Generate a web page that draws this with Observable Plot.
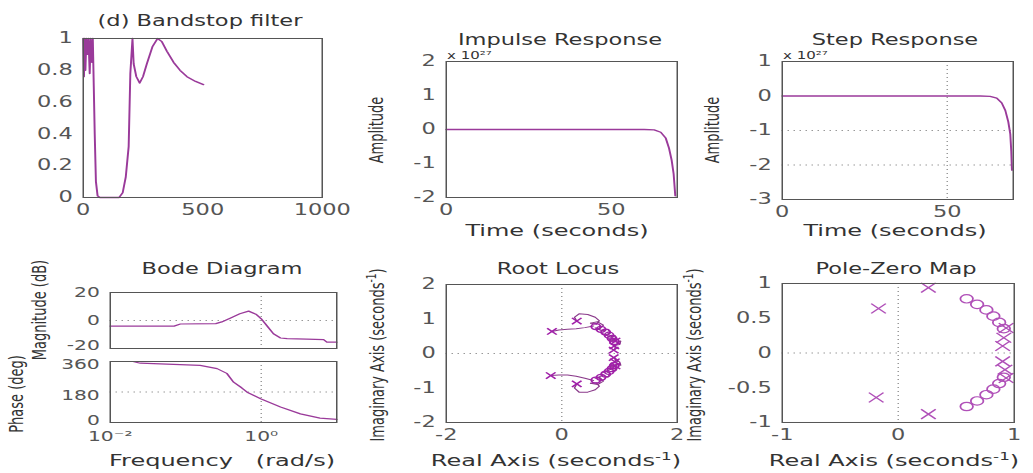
<!DOCTYPE html>
<html><head><meta charset="utf-8">
<script src="https://cdn.jsdelivr.net/npm/d3@7"></script>
<script src="https://cdn.jsdelivr.net/npm/@observablehq/plot@0.6"></script>
<style>
html,body{margin:0;padding:0;background:#fff;}
#fig{position:absolute;left:0;top:0;width:688.667px;height:473px;transform:scaleX(1.5);transform-origin:0 0;font-family:"DejaVu Sans",sans-serif;color:#333;}
#fig svg{background:transparent !important;}
.t{position:absolute;white-space:nowrap;transform:translate(-50%,-50%);}
.l{position:absolute;white-space:nowrap;transform:translate(0,-50%);}
.v{position:absolute;white-space:nowrap;transform:translate(-50%,-50%) rotate(-90deg);}
sup{font-size:70%;}
</style></head><body><div id="fig"></div>
<script>
// ---------- data ----------
const bandstop = [[0,1],[3,0.76],[6,1],[9,0.8],[13,1],[18,0.9],[22,1],[27,0.78],[31,1],[36,0.85],[40,1],[44,0.7],[48,0.4],[53,0.1],[60,0.01],[70,0],[150,0],[165,0.03],[178,0.13],[190,0.32],[197,0.78],[206,1],[211,0.84],[222,0.76],[236,0.72],[250,0.76],[266,0.84],[290,0.95],[311,1],[329,0.98],[350,0.92],[378,0.85],[405,0.8],[434,0.76],[470,0.73],[503,0.71]];
const bandstopXTicks = [0,500,1000];
const bandstopYTicks = [0,0.2,0.4,0.6,0.8,1];

const impulse = [[0,0],[60,0],[63,-0.01],[65,-0.08],[66.5,-0.25],[67.5,-0.55],[68.3,-0.9],[68.9,-1.3],[69.4,-1.95]];
const impulseYTicks = [-2,-1,0,1,2];

const step = [[0,0],[60,0],[63,-0.01],[65,-0.06],[66.5,-0.2],[67.6,-0.42],[68.5,-0.75],[69.1,-1.1],[69.4,-1.6],[69.6,-2.15]];
const stepYTicks = [-3,-2,-1,0,1];
const stepGridY = [-2,-1];
const timeTicks = [0,50];
const timeGridX = [50];

const bodeMag = [[0.01,-4],[0.07,-4],[0.085,-2.5],[0.25,-2.2],[0.3,-1],[0.4,2],[0.52,4.8],[0.68,6.7],[0.85,4.5],[1.0,1.2],[1.2,-4],[1.45,-9.5],[1.8,-12.5],[2.2,-13],[4,-13.3],[6.7,-13.6],[7.4,-15.5],[10,-15.5]];
const bodePhase = [[0.02,360],[0.025,350],[0.155,337],[0.26,318],[0.35,290],[0.43,238],[0.55,205],[0.65,179],[0.98,140],[1.8,91],[3.3,51],[6,26],[10,18]];
const bodeXTicks = [0.01,1];
const bodeXLabels = ["10\u207B\u00B2","10\u2070"];
const magYTicksTop = [0,20];
const magYTicksBottom = [-20];
const phaseYTicksTop = [180,360];
const phaseYTicksBottom = [0];

const poles = [[-0.17,0.64],[-0.19,-0.64],[0.26,0.94],[0.26,-0.88],[0.93,0.36],[0.91,0.22],[0.9,0.1],[0.9,-0.12],[0.92,-0.24],[0.93,-0.36]];
const zeros = [[0.59,0.78],[0.68,0.7],[0.76,0.62],[0.82,0.53],[0.87,0.44],[0.91,0.35],[0.59,-0.77],[0.68,-0.69],[0.76,-0.6],[0.82,-0.52],[0.87,-0.44],[0.91,-0.35]];

const rlA = [[-0.17,0.64],[-0.05,0.68],[0.1,0.7],[0.25,0.72],[0.4,0.75],[0.55,0.8]];
const rlB = [[0.26,0.94],[0.22,1.05],[0.3,1.15],[0.45,1.13],[0.58,1.05],[0.65,0.95],[0.6,0.85],[0.5,0.88]];
const rlC = [[0.5,0.88],[0.62,0.92],[0.72,0.82],[0.66,0.72],[0.58,0.74],[0.7,0.66],[0.8,0.7],[0.84,0.6],[0.76,0.54],[0.7,0.58],[0.84,0.48],[0.92,0.52],[0.94,0.42],[0.86,0.38],[0.82,0.42],[0.95,0.33],[1.02,0.36],[1.0,0.26],[0.93,0.24],[0.92,0.12]];
const rlD = [[-0.19,-0.64],[-0.05,-0.62],[0.1,-0.62],[0.25,-0.66],[0.4,-0.72],[0.55,-0.78]];
const rlE = [[0.26,-0.88],[0.22,-1.0],[0.3,-1.12],[0.45,-1.12],[0.58,-1.05],[0.65,-0.95],[0.6,-0.85],[0.5,-0.86]];
const rlF = [[0.5,-0.86],[0.62,-0.9],[0.72,-0.8],[0.66,-0.7],[0.58,-0.72],[0.7,-0.64],[0.8,-0.68],[0.84,-0.58],[0.76,-0.52],[0.7,-0.56],[0.84,-0.46],[0.92,-0.5],[0.94,-0.4],[0.86,-0.36],[0.82,-0.4],[0.95,-0.31],[1.02,-0.34],[1.0,-0.24],[0.93,-0.22],[0.92,-0.12]];
const rlTicks = [-2,0,2];
const rlYTicks = [-2,-1,0,1,2];
const pzTicks = [-1,0,1];
const pzYTicks = [-1,-0.5,0,0.5,1];
const zeroGrid = [0];

// ---------- layout helpers ----------
const S = 1.5;
const fig = document.getElementById("fig");
const LINE = "#9a3a9a";
const MARK = "#b050b8";
const GRID = {stroke:"#999", strokeDasharray:"1,3", strokeWidth:1};
const fx = d => d[0], fy = d => d[1];
const fmt = d => String(d);

function panel(f, xo, yo, marks, fs) {
  const L = f[0]/S, R = f[1]/S, T = f[2], B = f[3];
  const mL = 45, mR = 14, mT = 6, mB = 30;
  const svg = Plot.plot({
    width: R - L + mL + mR, height: B - T + mT + mB,
    marginLeft: mL, marginRight: mR, marginTop: mT, marginBottom: mB,
    x: Object.assign({tickSize: 0, tickPadding: 7, label: null, tickFormat: fmt}, xo),
    y: Object.assign({tickSize: 0, tickPadding: 7, label: null, tickFormat: fmt}, yo),
    style: {fontFamily: "DejaVu Sans", fontSize: (fs || 15) + "px", color: "#555", background: "transparent", overflow: "visible"},
    marks: [...marks, Plot.frame({stroke: "#555"})]
  });
  svg.style.position = "absolute";
  svg.style.left = (L - mL) + "px";
  svg.style.top = (T - mT) + "px";
  fig.appendChild(svg);
}
function lab(html, x, y, size, cls) {
  const d = document.createElement("div");
  d.className = cls || "t";
  d.style.left = (x / S) + "px";
  d.style.top = y + "px";
  d.style.fontSize = size + "px";
  d.innerHTML = html;
  fig.appendChild(d);
}
// y tick labels drawn as text marks positioned by the y scale
const yLab = (ticks, dy) => Plot.text(ticks, {y: d => d, text: fmt, frameAnchor: "left", textAnchor: "end", dx: -7, dy, fill: "#555", fontSize: 13.5});

// (d) Bandstop filter
panel([83,322,38,197], {domain:[0,1000], ticks: bandstopXTicks}, {domain:[0,1], ticks: bandstopYTicks}, [
  Plot.line(bandstop, {x: fx, y: fy, stroke: LINE, strokeWidth: 1.3})
]);
// Impulse response
panel([446,677,61,197], {domain:[0,70], ticks: timeTicks}, {domain:[-2,2], ticks: impulseYTicks}, [
  Plot.line(impulse, {x: fx, y: fy, stroke: LINE, strokeWidth: 1.3})
]);
// Step response
panel([782,1013,61,199], {domain:[0,70], ticks: timeTicks}, {domain:[-3,1], ticks: stepYTicks}, [
  Plot.ruleY(stepGridY, GRID), Plot.ruleX(timeGridX, GRID),
  Plot.line(step, {x: fx, y: fy, stroke: LINE, strokeWidth: 1.3})
]);
// Bode phase
panel([110,336.5,361,422], {type:"log", domain:[0.01,10], ticks: bodeXTicks, tickPadding: 9, tickFormat: d => bodeXLabels[bodeXTicks.indexOf(d)]}, {domain:[0,360], axis: null}, [
  yLab(phaseYTicksTop, 3.5), yLab(phaseYTicksBottom, -2),
  Plot.ruleY([180], GRID), Plot.ruleX([1], GRID),
  Plot.line(bodePhase, {x: fx, y: fy, stroke: LINE, strokeWidth: 1.2})
], 13.5);
// Bode magnitude
panel([110,336.5,292,348], {type:"log", domain:[0.01,10], axis: null}, {domain:[-20,20], axis: null}, [
  yLab(magYTicksTop, 0), yLab(magYTicksBottom, -3),
  Plot.ruleY(zeroGrid, GRID), Plot.ruleX([1], GRID),
  Plot.line(bodeMag, {x: fx, y: fy, stroke: LINE, strokeWidth: 1.2})
], 13.5);
// Root locus
panel([446,677,284,422], {domain:[-2,2], ticks: rlTicks}, {domain:[-2,2], ticks: rlYTicks}, [
  Plot.ruleY(zeroGrid, GRID), Plot.ruleX(zeroGrid, GRID),
  ...[rlA, rlB, rlC, rlD, rlE, rlF].map(b => Plot.line(b, {x: fx, y: fy, stroke: "#8a3a8a", strokeWidth: 1})),
  Plot.dot(zeros, {x: fx, y: fy, symbol: "circle", r: 3, stroke: "#a020a8", fill: "none", strokeWidth: 1.3}),
  Plot.dot(poles, {x: fx, y: fy, symbol: "times", r: 3, stroke: "#a020a8", strokeWidth: 1.3})
]);
// Pole-zero map
panel([781,1013,283,422], {domain:[-1,1], ticks: pzTicks}, {domain:[-1,1], ticks: pzYTicks}, [
  Plot.ruleY(zeroGrid, GRID), Plot.ruleX(zeroGrid, GRID),
  Plot.dot(zeros, {x: fx, y: fy, symbol: "circle", r: 4.2, stroke: MARK, fill: "none", strokeWidth: 1.2}),
  Plot.dot(poles, {x: fx, y: fy, symbol: "times", r: 4.5, stroke: MARK, strokeWidth: 1.2})
]);

// ---------- texts ----------
lab("(d) Bandstop filter", 200, 21, 15);
lab("Impulse Response", 560, 40, 15);
lab("Step Response", 895, 40, 15);
lab("Bode Diagram", 222, 269, 15);
lab("Root Locus", 558, 269, 15);
lab("Pole-Zero Map", 896, 269, 15);

lab("x 10\u00B2\u2077", 447, 54.5, 10, "l");
lab("x 10\u00B2\u2077", 783, 54.5, 10, "l");

lab("Time (seconds)", 557, 230, 16);
lab("Time (seconds)", 895, 230, 16);
lab("Frequency &nbsp;&nbsp;(rad/s)", 222, 460, 16);
lab("Real Axis (seconds<sup>-1</sup>)", 556, 460, 16);
lab("Real Axis (seconds<sup>-1</sup>)", 894, 460, 16);

lab("Amplitude", 377, 130, 13, "v");
lab("Amplitude", 713, 130, 13, "v");
lab("Phase (deg)", 16, 394, 13, "v");
lab("Magnitude (dB)", 39, 310, 13, "v");
lab("Imaginary Axis (seconds<sup>-1</sup>)", 377, 355, 13, "v");
lab("Imaginary Axis (seconds<sup>-1</sup>)", 693, 355, 13, "v");
</script></body></html>
